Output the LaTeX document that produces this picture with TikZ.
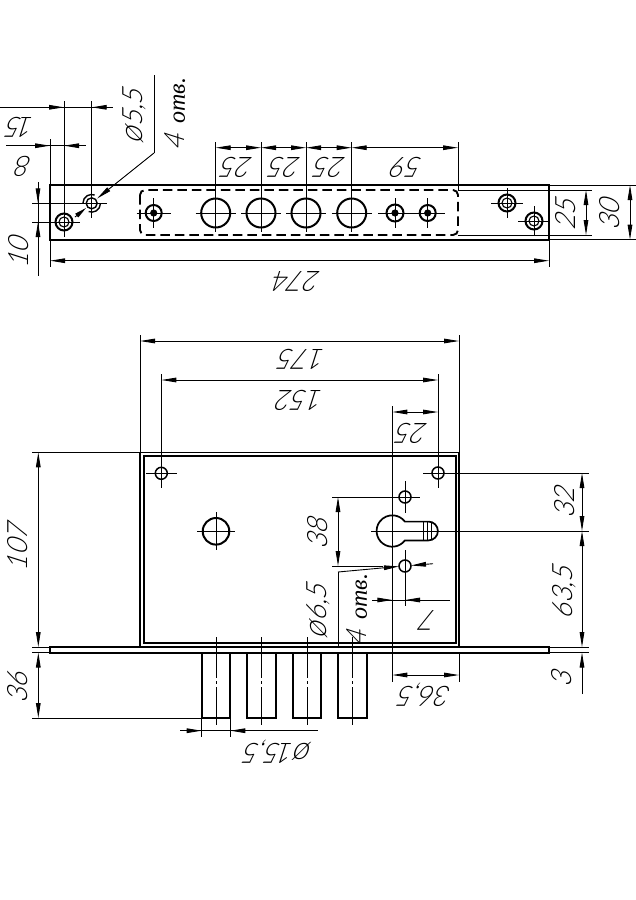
\documentclass[tikz,border=0pt]{standalone}
\usepackage{fontspec}
\usepackage{xcolor}
\usetikzlibrary{arrows.meta}
\newfontfamily\gostfont[FakeStretch=0.95,FakeSlant=0.32]{Lato Light}
\newfontfamily\holefont{Liberation Serif}
\newcommand{\dia}{{\fontsize{32}{30}\selectfont ø}\kern1pt}
\newcommand{\holes}{4\kern11pt{\holefont\itshape\fontsize{24}{28}\selectfont отв.}}

\begin{document}
\begin{tikzpicture}
[x=1pt, y=-1pt,
 thin line/.style={line width=0.9pt},
 outline/.style={line width=2pt},
 hidden/.style={line width=1.9pt, dash pattern=on 9.5pt off 5pt, rounded corners=5pt},
 axis/.style={line width=0.9pt, dash pattern=on 41pt off 3pt on 3pt off 3pt},
 tip/.style={line width=0.9pt, -{Triangle[length=15pt,width=4.6pt]}},
 both/.style={line width=0.9pt, {Triangle[length=15pt,width=4.6pt]}-{Triangle[length=15pt,width=4.6pt]}},
 lbl/.style={font=\gostfont\fontsize{28}{30}\selectfont, inner sep=0pt},
]
\useasboundingbox (0,0) rectangle (636,900);

% top view: strip
\draw[outline] (50,185) rectangle (549,239.7);
\draw[hidden] (140,190) rectangle (458,235);
\draw[thin line] (458,190) -- (592,190) (458,235) -- (592,235);
\draw[thin line] (549,185) -- (636,185) (549,239.7) -- (636,239.7);

% top view: large holes
\foreach \x in {215.7,261,306,351.7} {
  \draw[outline] (\x,213) circle[radius=14.5];
  \draw[thin line] (\x-20,213) -- (\x+20,213) (\x,142) -- (\x,232);
}

% top view: screws with a star
\foreach \x/\r in {153.7/8,395/8.5,427.7/8} {
  \draw[outline] (\x,213) circle[radius=\r];
  \fill (\x,213) circle[radius=3.6];
  \draw[thin line] (\x-17,213) -- (\x+17,213) (\x,198) -- (\x,228);
}

% top view: screws with two rings
\foreach \x/\y in {64/222,507/203,534/221} {
  \draw[outline] (\x,\y) circle[radius=8.5];
  \draw[thin line, line width=1.1pt] (\x,\y) circle[radius=5];
  \draw[thin line] (\x-16,\y) -- (\x+16,\y) (\x,\y-15) -- (\x,\y+15);
}

% top view: hole with the broken ring
\coordinate (holeTop) at (91.7,203.3);
\draw[thin line, line width=1.4pt] (holeTop) circle[radius=5.5];
\draw[thin line, line width=1.4pt] (holeTop)+(180:8.8) arc[start angle=180, end angle=290, radius=8.8];
\draw[thin line, line width=1.4pt] (holeTop)+(0:8.8) arc[start angle=0, end angle=110, radius=8.8];
\draw[thin line] (32,203.3) -- (107,203.3) (91.7,101) -- (91.7,218);
\draw[thin line] (64,101) -- (64,222) (50,139) -- (50,267) (549,239) -- (549,267);
\draw[thin line] (32,222) -- (64,222);
\draw[thin line] (458,142) -- (458,190);

% top view: leader
\coordinate (leadTop) at (154,153);
\coordinate (leadEnd) at (154,75);
\coordinate (tipA) at (97,198.6);
\coordinate (tailB) at (75,217);
\coordinate (tipB) at (86,208);
\draw[tip] (leadTop) -- (tipA);
\draw[thin line] (leadEnd) -- (leadTop);
\draw[tip, -{Triangle[length=12pt,width=4.6pt]}] (tailB) -- (tipB);

% top view: dimensions
\draw[thin line] (0,107.3) -- (113,107.3) (6,145.7) -- (86,145.7);
\draw[tip] (49,107.3) -- (64,107.3);
\draw[tip] (107,107.3) -- (91.7,107.3);
\draw[tip] (35,145.7) -- (50,145.7);
\draw[tip] (79,145.7) -- (64,145.7);
\draw[thin line] (38,182) -- (38,276);
\draw[tip] (38,188) -- (38,203.3);
\draw[tip] (38,237) -- (38,222);
\draw[both] (50,260.7) -- (549,260.7);
\draw[both] (586,190) -- (586,235);
\draw[both] (630,185) -- (630,239.7);
\draw[both] (215.7,147.7) -- (261,147.7);
\draw[both] (261,147.7) -- (306,147.7);
\draw[both] (306,147.7) -- (351.7,147.7);
\draw[both] (351.7,147.7) -- (458,147.7);

\node[lbl, rotate=180] (top15) at (21.5,127) {1\kern-4pt 5};
\node[lbl, rotate=180] (top8) at (25,166) {8};
\node[lbl, rotate=90] (top10) at (19,253) {10};
\node[lbl, rotate=90] (topdia) at (134,117) {\dia 5,5};
\node[lbl, rotate=90] (topholes) at (175,114) {\holes};
\node[lbl, rotate=180] (gap1) at (238,167.7) {25};
\node[lbl, rotate=180] (gap2) at (286,167.7) {25};
\node[lbl, rotate=180] (gap3) at (331,167.7) {25};
\node[lbl, rotate=180] (gap4) at (408,167.7) {59};
\node[lbl, rotate=90] (strip25) at (566,215) {25};
\node[lbl, rotate=90] (strip30) at (610,215) {30};
\node[lbl, rotate=180] (len274) at (298,282) {274};

% front view: case and strip
\draw[thin line, line width=1.2pt] (140,647) -- (140,452.3) -- (459,452.3) -- (459,647);
\draw[outline] (144,643.3) rectangle (455.7,455.7);
\draw[outline] (50,647) rectangle (549,652.5);
\draw[thin line] (140,335) -- (140,452) (459,335) -- (459,452);

% front view: bolts
\foreach \x in {216,261.3,307,352.3} {
  \draw[outline] (\x-14.3,652.5) -- (\x-14.3,717.5) -- (\x+14.3,717.5) -- (\x+14.3,652.5);
  \draw[axis] (\x,637) -- (\x,725);
}

% front view: holes
\foreach \x/\y in {161.3/473.3,438/473,405/497,405/566} {
  \draw[thin line, line width=1.5pt] (\x,\y) circle[radius=6];
}
\draw[outline] (216,531.3) circle[radius=13.3];
\draw[thin line] (197,531.3) -- (235,531.3) (216,512) -- (216,550);
\draw[thin line] (146,473.3) -- (177,473.3) (161.3,374) -- (161.3,488);
\draw[thin line] (423,473) -- (589,473) (438,374) -- (438,488);
\draw[thin line] (332,497) -- (420,497) (405,481) -- (405,513);
\draw[thin line] (332,566) -- (383,566) (405,550) -- (405,606);

% front view: key hole
\coordinate (keyC) at (392.3,531);
\draw[outline, line width=1.7pt] (keyC)+(36.8:15.7) arc[start angle=36.8, end angle=323.2, radius=15.7]
  -- (428.5,521.6) arc[start angle=270, end angle=450, radius=9.4] -- cycle;
\foreach \x in {423,427,431} {
  \draw[thin line] (\x,522) -- (\x,540);
}
\draw[thin line] (371,531) -- (589,531);
\draw[thin line] (392.3,406) -- (392.3,682);

% front view: leader
\coordinate (leadCase) at (338,572);
\coordinate (leadDown) at (338,648);
\coordinate (tipC) at (399,566.4);
\coordinate (tailD) at (433,563.7);
\coordinate (tipD) at (411,565.5);
\draw[tip] (leadCase) -- (tipC);
\draw[thin line] (leadDown) -- (leadCase);
\draw[tip] (tailD) -- (tipD);

% front view: dimensions
\draw[both] (140,341) -- (459,341);
\draw[both] (161.3,380) -- (438,380);
\draw[both] (392.3,412) -- (438,412);
\draw[both] (338,497) -- (338,566);
\draw[thin line] (372,600) -- (450,600);
\draw[tip] (377,600) -- (392.3,600);
\draw[tip] (420,600) -- (405,600);
\draw[both] (38.3,452.3) -- (38.3,647);
\draw[both] (38.3,652.5) -- (38.3,718);
\draw[thin line] (32,452.3) -- (140,452.3) (32,647) -- (50,647) (32,652.5) -- (50,652.5) (32,718) -- (202,718);
\draw[both] (582,473) -- (582,531);
\draw[both] (582,531) -- (582,647);
\draw[thin line] (549,647) -- (589,647) (549,652.5) -- (589,652.5);
\draw[tip] (582,694) -- (582,652.5);
\draw[both] (392.3,675) -- (459,675);
\draw[thin line] (459,652) -- (459,682);
\draw[thin line] (180,730.7) -- (318,730.7) (201.7,718) -- (201.7,737) (230.3,718) -- (230.3,737);
\draw[tip] (186,730.7) -- (201.7,730.7);
\draw[tip] (245,730.7) -- (230.3,730.7);

\node[lbl, rotate=180] (len175) at (303,359) {175};
\node[lbl, rotate=180] (len152) at (301,400) {152};
\node[lbl, rotate=180] (key25) at (413,433) {25};
\node[lbl, rotate=90] (case107) at (18,548) {107};
\node[lbl, rotate=90] (bolt36) at (18,688) {36};
\node[lbl, rotate=90] (hole38) at (318,534) {38};
\node[lbl, rotate=90] (hole32) at (565,503) {32};
\node[lbl, rotate=90] (key63) at (564,593) {63,5};
\node[lbl, rotate=90] (strip3) at (562,680) {3};
\node[lbl, rotate=90] (frontdia) at (318,612) {\dia 6,5};
\node[lbl, rotate=90] (frontholes) at (357,610) {\holes};
\node[lbl, rotate=180] (hole7) at (430,620) {7};
\node[lbl, rotate=180] (back36) at (426,695) {36,5};
\node[lbl, rotate=180] (boltdia) at (279,752) {\dia 1\kern-3pt 5,5};
\end{tikzpicture}
\end{document}
